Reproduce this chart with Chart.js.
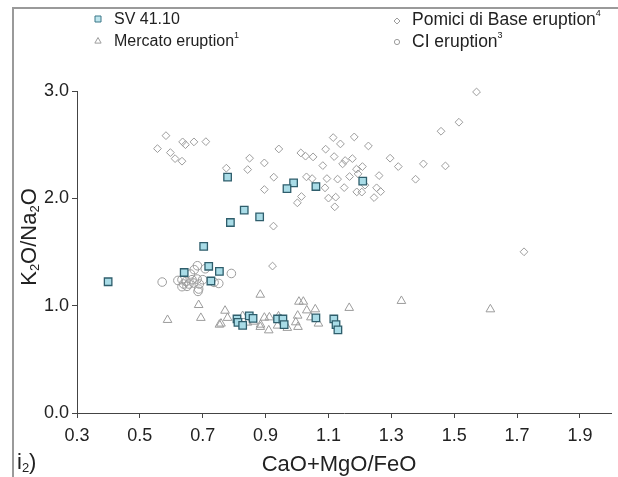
<!DOCTYPE html>
<html><head><meta charset="utf-8">
<script src="https://cdn.jsdelivr.net/npm/chart.js@4"></script>
<style>html,body{margin:0;padding:0;background:#fff}#wrap{position:relative;width:618px;height:477px}</style>
</head><body><div id="wrap"><canvas id="c" width="618" height="477"></canvas></div>
<script>
// Axis ticks
const xTicks = [0.3, 0.5, 0.7, 0.9, 1.1, 1.3, 1.5, 1.7, 1.9];
const xTickLabels = ['0.3','0.5','0.7','0.9','1.1','1.3','1.5','1.7','1.9'];
const yTicks = [0, 1, 2, 3];
const yTickLabels = ['0.0','1.0','2.0','3.0'];

// SV 41.10
const svX = [0.779,0.989,0.968,1.060,0.832,0.788,0.881,1.209,
             0.703,0.719,0.641,0.753,0.399,0.726,
             0.809,0.812,0.827,0.848,0.860,0.938,0.955,0.959,1.060,1.117,1.124,1.130];
const svY = [2.197,2.144,2.091,2.110,1.890,1.775,1.828,2.160,
             1.552,1.367,1.309,1.319,1.223,1.230,
             0.876,0.845,0.817,0.904,0.882,0.876,0.876,0.823,0.886,0.876,0.823,0.774];

// Pomici di Base eruption
const pbX = [0.583,0.556,0.597,0.612,0.634,0.636,0.645,0.672,0.710,0.775,0.849,0.843,0.896,0.942,0.926,0.896,0.925,
             1.012,1.027,1.051,1.091,1.115,1.138,1.182,1.082,1.118,1.145,1.153,1.176,1.030,1.048,1.095,1.129,1.167,
             1.089,1.150,1.014,1.001,1.100,1.123,1.120,1.227,1.296,1.322,1.189,1.208,1.194,1.261,1.216,1.190,1.206,
             1.253,1.266,1.245,1.571,1.515,1.458,1.402,1.472,1.377,1.722,0.922];
const pbY = [2.584,2.463,2.426,2.370,2.346,2.526,2.500,2.526,2.528,2.281,2.374,2.268,2.330,2.460,2.197,2.082,1.741,
             2.423,2.393,2.386,2.458,2.566,2.507,2.572,2.305,2.389,2.321,2.352,2.370,2.200,2.184,2.184,2.179,2.203,
             2.098,2.100,2.017,1.958,2.002,2.011,1.921,2.488,2.374,2.296,2.272,2.296,2.228,2.212,2.123,2.060,2.058,
             2.098,2.063,2.007,2.991,2.709,2.625,2.321,2.302,2.178,1.502,1.369];

// Mercato eruption
const meX = [0.883,0.687,0.588,0.694,0.771,0.779,0.753,0.758,0.827,0.842,0.896,0.912,0.883,0.910,0.938,0.969,
             1.006,1.020,1.031,1.058,1.002,1.044,0.996,1.003,1.068,1.166,0.941,0.861,0.884,1.332,1.615];
const meY = [1.102,1.006,0.867,0.886,0.953,0.886,0.823,0.833,0.904,0.842,0.888,0.891,0.802,0.770,0.814,0.793,
             1.037,1.037,0.956,0.966,0.907,0.891,0.845,0.802,0.833,0.979,0.900,0.851,0.823,1.044,0.966];

// CI eruption
const ciX = [0.571,0.683,0.673,0.661,0.708,0.791,0.621,0.634,0.647,0.666,0.682,0.700,0.639,0.656,0.671,0.689,
             0.634,0.650,0.687,0.685,0.736,0.751];
const ciY = [1.220,1.372,1.335,1.295,1.344,1.300,1.235,1.242,1.226,1.242,1.248,1.242,1.202,1.202,1.211,1.202,
             1.177,1.180,1.155,1.133,1.217,1.207];

const pts = (xs, ys) => xs.map((x, i) => ({x: x, y: ys[i]}));
const GRAY = '#9c9c9c';
const FONT = "'Liberation Sans', Arial, sans-serif";

function sub(ctx, parts, x, y, align) {
  let total = 0;
  parts.forEach(p => { ctx.font = p[1] + 'px ' + FONT; total += ctx.measureText(p[0]).width; });
  let cx = align === 'center' ? x - total / 2 : x;
  parts.forEach(p => {
    ctx.font = p[1] + 'px ' + FONT;
    ctx.fillText(p[0], cx, y + p[2]);
    cx += ctx.measureText(p[0]).width;
  });
}

function marker(ctx, style, x, y, r, fill, stroke) {
  ctx.save();
  ctx.fillStyle = fill; ctx.strokeStyle = stroke; ctx.lineWidth = 1;
  ctx.beginPath();
  if (style === 'rect') ctx.rect(x - r, y - r, 2 * r, 2 * r);
  else if (style === 'rectRot') { ctx.moveTo(x, y - r); ctx.lineTo(x + r, y); ctx.lineTo(x, y + r); ctx.lineTo(x - r, y); ctx.closePath(); }
  else if (style === 'triangle') { ctx.moveTo(x, y - r); ctx.lineTo(x + r * 0.9, y + r * 0.6); ctx.lineTo(x - r * 0.9, y + r * 0.6); ctx.closePath(); }
  else ctx.arc(x, y, r, 0, Math.PI * 2);
  ctx.fill(); ctx.stroke();
  ctx.restore();
}

const decor = {
  id: 'decor',
  afterDraw(chart) {
    const ctx = chart.ctx;
    ctx.save();
    ctx.strokeStyle = '#9a9a9a'; ctx.lineWidth = 2;
    ctx.strokeRect(13, 8, 640, 500);
    ctx.fillStyle = '#222';
    ctx.textBaseline = 'middle';
    // legend
    marker(ctx, 'rect', 98, 19, 3, '#bfe6ee', '#3a7787');
    sub(ctx, [['SV 41.10', 16, 0]], 114, 20, 'left');
    marker(ctx, 'triangle', 98, 41, 3.5, '#fff', GRAY);
    sub(ctx, [['Mercato eruption', 16, 0], ['1', 9, -6]], 114, 42, 'left');
    marker(ctx, 'rectRot', 397, 21, 3, '#fff', GRAY);
    sub(ctx, [['Pomici di Base eruption', 17.5, 0], ['4', 9, -6]], 412, 20, 'left');
    marker(ctx, 'circle', 397, 42, 2.6, '#fff', GRAY);
    sub(ctx, [['CI eruption', 17.5, 0], ['3', 9, -6]], 412, 42, 'left');
    // x title
    sub(ctx, [['CaO+MgO/FeO', 22, 0]], 339, 465, 'center');
    // panel label
    sub(ctx, [['i', 22, 0], ['2', 13, 5], [')', 22, 0]], 17, 463, 'left');
    // y title
    ctx.save();
    ctx.translate(30, 237);
    ctx.rotate(-Math.PI / 2);
    sub(ctx, [['K', 22, 0], ['2', 13, 5], ['O/Na', 22, 0], ['2', 13, 5], ['O', 22, 0]], 0, 0, 'center');
    ctx.restore();
    ctx.restore();
  }
};

new Chart(document.getElementById('c'), {
  type: 'scatter',
  data: {
    datasets: [
      {label: 'SV 41.10', data: pts(svX, svY), pointStyle: 'rect', radius: 5.3,
       backgroundColor: '#a9dce7', borderColor: '#2f5e6c', borderWidth: 1.3, clip: false},
      {label: 'Mercato eruption', data: pts(meX, meY), pointStyle: 'triangle', radius: 5,
       backgroundColor: 'rgba(255,255,255,0)', borderColor: GRAY, borderWidth: 1, clip: false},
      {label: 'CI eruption', data: pts(ciX, ciY), pointStyle: 'circle', radius: 4.3,
       backgroundColor: 'rgba(255,255,255,0)', borderColor: GRAY, borderWidth: 1, clip: false},
      {label: 'Pomici di Base eruption', data: pts(pbX, pbY), pointStyle: 'rectRot', radius: 3.9,
       backgroundColor: 'rgba(255,255,255,0)', borderColor: GRAY, borderWidth: 1, clip: false}
    ]
  },
  options: {
    responsive: false, animation: false, devicePixelRatio: 1,
    layout: {padding: {top: 91, right: 4, left: 0, bottom: 0}},
    plugins: {legend: {display: false}, tooltip: {enabled: false}},
    elements: {point: {hoverRadius: 5}},
    scales: {
      x: {
        type: 'linear', min: 0.3, max: 2.0,
        afterBuildTicks: s => { s.ticks = xTicks.map(v => ({value: v})); },
        afterFit: s => { s.height = 64; },
        ticks: {callback: (v, i) => xTickLabels[i], font: {family: FONT, size: 18}, color: '#222',
                padding: 7, maxRotation: 0, autoSkip: false},
        grid: {drawOnChartArea: false, drawTicks: true, tickLength: 5, color: '#444'},
        border: {display: true, color: '#444', width: 1}
      },
      y: {
        type: 'linear', min: 0, max: 3.0,
        afterBuildTicks: s => { s.ticks = yTicks.map(v => ({value: v})); },
        afterFit: s => { s.width = 77; },
        ticks: {callback: (v, i) => yTickLabels[i], font: {family: FONT, size: 18}, color: '#222',
                padding: 3, autoSkip: false},
        grid: {drawOnChartArea: false, drawTicks: true, tickLength: 5, color: '#444'},
        border: {display: true, color: '#444', width: 1}
      }
    }
  },
  plugins: [decor]
});
</script></body></html>
